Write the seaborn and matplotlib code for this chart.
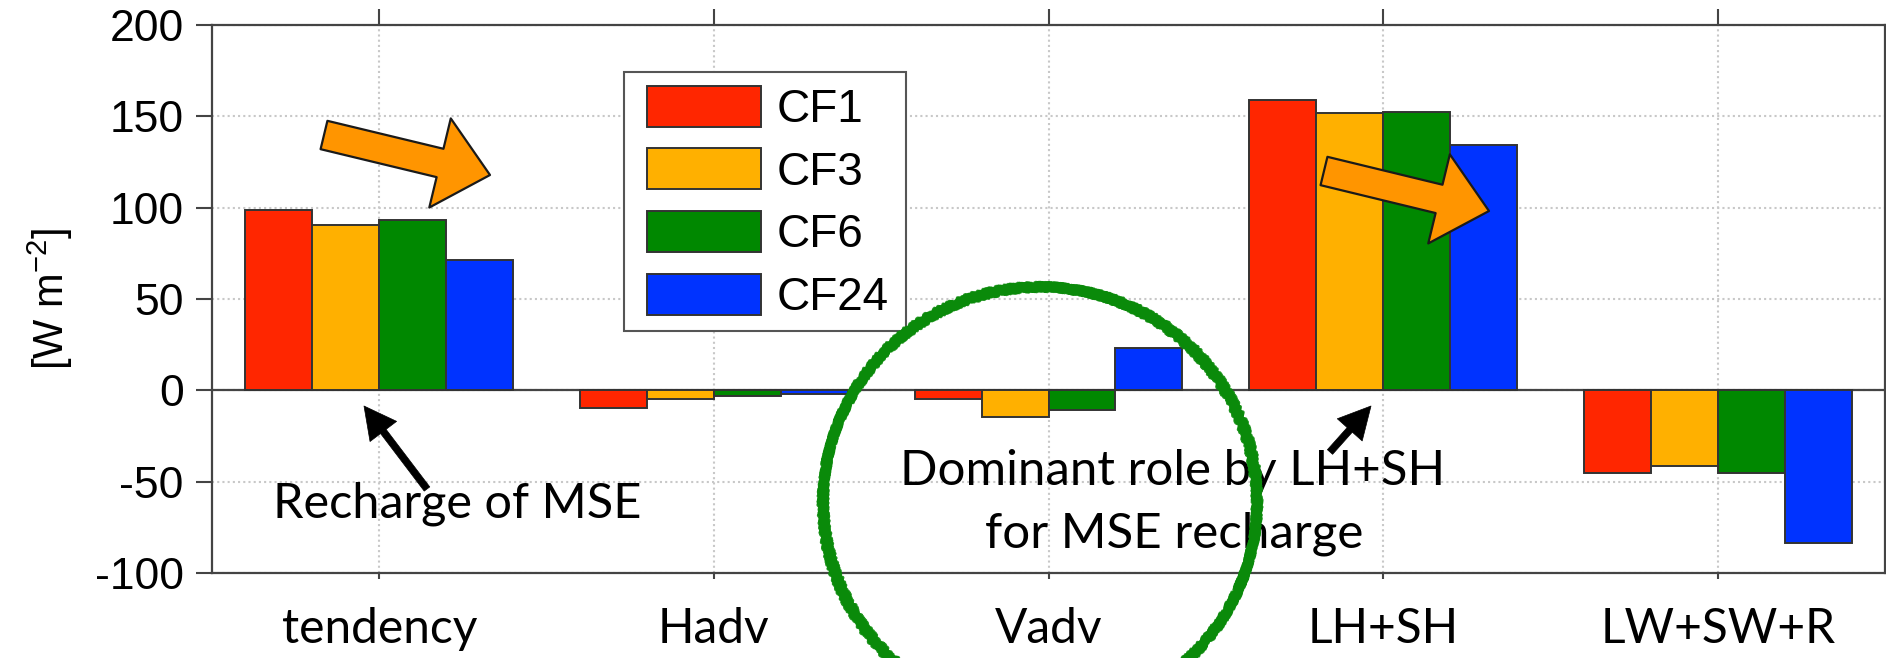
import numpy as np
import pandas as pd
import matplotlib
matplotlib.use("Agg")
import matplotlib.pyplot as plt
import matplotlib.patches as mpatches
from matplotlib.transforms import IdentityTransform
import seaborn as sns

# ---------------- data ----------------
terms = ["tendency", "Hadv", "Vadv", "LH+SH", "LW+SW+R"]
cases = ["CF1", "CF3", "CF6", "CF24"]
cf1 = [98.5, -9.5, -5.0, 159.0, -45.5]
cf3 = [90.5, -5.0, -14.5, 152.0, -41.5]
cf6 = [93.0, -3.0, -11.0, 152.5, -45.5]
cf24 = [71.5, -2.0, 23.0, 134.5, -83.5]
colors = ["#FF2600", "#FFB000", "#008800", "#0033FF"]
yticks = [-100, -50, 0, 50, 100, 150, 200]
ylabel = "[W m$^{-2}$]"
note1 = "Recharge of MSE"
note2a = "Dominant role by LH+SH"
note2b = "for MSE recharge"

df = pd.DataFrame({
    "term": np.tile(terms, len(cases)),
    "case": np.repeat(cases, len(terms)),
    "value": cf1 + cf3 + cf6 + cf24,
})

# ---------------- style ----------------
sns.set_theme(style="white")
plt.rcParams["font.family"] = ["Liberation Sans", "DejaVu Sans"]
plt.rcParams["text.color"] = "black"
plt.rcParams["axes.labelcolor"] = "black"
plt.rcParams["mathtext.fontset"] = "custom"
plt.rcParams["mathtext.rm"] = "Liberation Sans"
plt.rcParams["mathtext.it"] = "Liberation Sans:italic"
plt.rcParams["mathtext.default"] = "rm"

W, H = 1886, 658
fig = plt.figure(figsize=(W / 100, H / 100), dpi=100)
fig.patch.set_facecolor("white")
L, R, T, B = 212, 1885, 25, 573
ax = fig.add_axes([L / W, 1 - B / H, (R - L) / W, (B - T) / H])

sns.barplot(data=df, x="term", y="value", hue="case", order=terms,
            hue_order=cases, palette=colors, saturation=1,
            edgecolor="#333333", linewidth=1.4, errorbar=None, width=0.8,
            legend=False, ax=ax, zorder=3)

ax.set_xlim(-0.5, len(terms) - 0.5)
ax.set_ylim(-100, 200)
ax.set_yticks(yticks)
ax.set_yticklabels([str(v) for v in yticks])
ax.set_xticks(range(len(terms)))
ax.set_xticklabels(terms, fontfamily="Lato", fontsize=34.5)
ax.set_xlabel("")

ax.set_axisbelow(True)
ax.grid(True, axis="both", linestyle=(0, (1, 1.5)), color="#c8c8c8", lw=1.5)
ax.axhline(0, color="#444444", lw=1.6, zorder=2.5)

for s in ax.spines.values():
    s.set_color("#444444")
    s.set_linewidth(1.6)

ax.tick_params(axis="y", direction="out", length=11.5, width=1.5,
               color="#444444", pad=9, labelsize=32, labelcolor="black",
               left=True, right=False)
ax.tick_params(axis="x", direction="out", length=4.3, width=1.5,
               color="#444444", pad=20, labelcolor="black",
               bottom=True, top=True)
for t in ax.xaxis.get_major_ticks():
    t.tick2line.set_markersize(11.5)

ax.set_ylabel(ylabel, fontsize=30, color="black")
ax.yaxis.set_label_coords((75 - L) / (R - L), 0.5)

# legend: content placed by matplotlib, frame drawn to the measured box
ID = IdentityTransform()


def P(x, y):
    return (x, H - y)


handles = [mpatches.Patch(fc=c, ec="#333333", lw=1.4) for c in colors]
fs_px = 33 * 100 / 72
bp = 0.3
leg = ax.legend(handles, cases, loc="upper left",
                bbox_to_anchor=((647 - bp * fs_px - L) / (R - L),
                                (B - 72) / (B - T)),
                borderaxespad=0, frameon=False, fontsize=33,
                handlelength=2.49, handleheight=1.0, labelspacing=0.36,
                handletextpad=0.33, borderpad=bp)
leg.set_zorder(6)
frame = mpatches.Rectangle(P(624, 331), 906 - 624, 331 - 72, transform=ID,
                           fc="white", ec="#555555", lw=1.5, zorder=5.9,
                           clip_on=False)
ax.add_artist(frame)

# ---------------- annotations ----------------


def block_arrow(tail, tip):
    a = mpatches.FancyArrowPatch(
        P(*tail), P(*tip), transform=ID,
        arrowstyle="simple,head_length=37,head_width=66,tail_width=21",
        mutation_scale=1, shrinkA=0, shrinkB=0,
        fc="#FF9500", ec="#1a1a1a", lw=1.6, zorder=6)
    fig.add_artist(a)


def thin_arrow(tail, tip):
    a = mpatches.FancyArrowPatch(
        P(*tail), P(*tip), transform=ID,
        arrowstyle="simple,head_length=23,head_width=24,tail_width=5",
        mutation_scale=1, shrinkA=0, shrinkB=0,
        fc="black", ec="black", lw=0.5, zorder=6)
    fig.add_artist(a)


block_arrow((324, 135), (490, 175))
block_arrow((1324, 171), (1489, 211))
thin_arrow((427, 489), (364, 406))
thin_arrow((1330, 452), (1371, 406))

fig.text(457 / W, 1 - 518 / H, note1, ha="center", va="baseline",
         fontfamily="Lato", fontsize=35, color="black", zorder=7)
fig.text(1173 / W, 1 - 485 / H, note2a, ha="center", va="baseline",
         fontfamily="Lato", fontsize=35.5, color="black", zorder=7)
fig.text(1174 / W, 1 - 547 / H, note2b, ha="center", va="baseline",
         fontfamily="Lato", fontsize=35.5, color="black", zorder=7)

# hand-drawn (crayon-like) green circle
strokes = [(0, 0, 6.5, 1.0), (3, -2, 3, 0.9), (-3, 2, 3, 0.9),
           (2, 3, 2.5, 0.8), (-2, -3, 2.5, 0.8)]
for dx, dy, lw, al in strokes:
    e = mpatches.Ellipse(P(1040 + dx, 502 + dy), 434, 430, angle=0,
                         transform=ID, fill=False, ec="#0A8A0A", lw=lw,
                         alpha=al, zorder=8, joinstyle="round",
                         capstyle="round")
    e.set_sketch_params(scale=1.6, length=3, randomness=4)
    fig.add_artist(e)

fig.savefig("out.png", dpi=100, facecolor="white")
